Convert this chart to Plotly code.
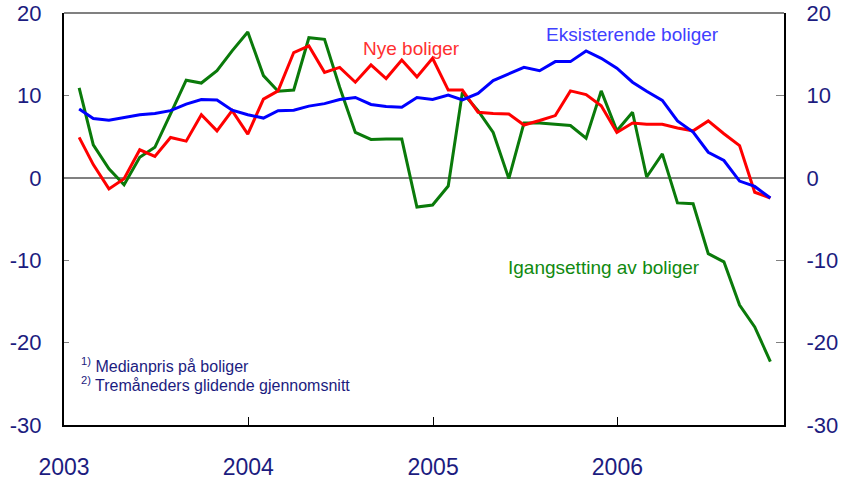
import pandas as pd
import plotly.graph_objects as go

# Monthly observations, Jan 2003 - Oct 2006 (plotted at month end)
months = pd.date_range("2003-01-31", periods=46, freq="ME")

# Tolvmånedersvekst i prosent
eksisterende = [8.35, 7.2, 7.0, 7.35, 7.65, 7.8, 8.15, 8.95, 9.5, 9.45, 8.2, 7.65,
                7.25, 8.15, 8.2, 8.7, 9.0, 9.5, 9.75, 8.9, 8.65, 8.55, 9.75, 9.5,
                10.05, 9.45, 10.25, 11.8, 12.6, 13.4, 13.0, 14.1, 14.1, 15.4, 14.5, 13.3,
                11.6, 10.5, 9.4, 6.9, 5.55, 3.1, 2.1, -0.4, -1.05, -2.45]
nye = [4.9, 1.6, -1.35, -0.1, 3.4, 2.6, 4.9, 4.45, 7.65, 5.7, 8.15, 5.3,
       9.55, 10.55, 15.2, 16.0, 12.8, 13.4, 11.6, 13.7, 12.05, 14.3, 12.25, 14.5,
       10.65, 10.65, 7.95, 7.8, 7.75, 6.4, 6.95, 7.55, 10.55, 10.1, 8.75, 5.5,
       6.65, 6.5, 6.5, 6.05, 5.7, 6.9, 5.35, 3.9, -1.75, -2.45]
igangsetting = [10.9, 4.0, 1.1, -0.85, 2.5, 3.7, 7.75, 11.85, 11.5, 13.0, 15.4, 17.7,
                12.4, 10.5, 10.65, 17.0, 16.8, 11.0, 5.5, 4.65, 4.7, 4.7, -3.55, -3.3,
                -1.0, 10.35, 8.15, 5.5, -0.1, 6.65, 6.65, 6.5, 6.35, 4.8, 10.55, 5.7,
                7.95, 0.1, 2.9, -3.05, -3.15, -9.2, -10.2, -15.45, -18.1, -22.3]

year_ticks = ["2003-01-01", "2004-01-01", "2005-01-01", "2006-01-01"]
year_labels = ["2003", "2004", "2005", "2006"]
y_ticks = [-30, -20, -10, 0, 10, 20]
y_labels = ["-30", "-20", "-10", "0", "10", "20"]

navy = "#1c1c80"
font = "Liberation Sans, Arial, sans-serif"

fig = go.Figure()
fig.add_trace(go.Scatter(x=months, y=igangsetting, mode="lines",
                         line=dict(color="#0a7a0a", width=3), showlegend=False))
fig.add_trace(go.Scatter(x=months, y=nye, mode="lines",
                         line=dict(color="#ff0000", width=3), showlegend=False))
fig.add_trace(go.Scatter(x=months, y=eksisterende, mode="lines",
                         line=dict(color="#0000ff", width=3), showlegend=False))
# invisible trace so the right-hand axis is drawn
fig.add_trace(go.Scatter(x=months[:1], y=[0], yaxis="y2", mode="lines",
                         line=dict(width=0), hoverinfo="skip", showlegend=False))

fig.update_layout(
    width=843, height=479,
    margin=dict(l=64, r=59, t=13, b=54),
    paper_bgcolor="white", plot_bgcolor="white",
    font=dict(family=font, color=navy),
    xaxis=dict(
        range=["2003-01-01", "2006-11-27"],
        tickvals=year_ticks, ticktext=year_labels,
        ticks="inside", ticklen=8, tickcolor="black", tickwidth=1,
        showline=True, linecolor="black", linewidth=2,
        showgrid=False, zeroline=False, automargin=False,
        tickfont=dict(size=23, color=navy),
        ticklabelstandoff=20,
    ),
    yaxis=dict(
        range=[-30, 20], tickvals=y_ticks, ticktext=y_labels,
        ticks="inside", ticklen=5, tickcolor="#808080",
        showline=True, linecolor="black", linewidth=2,
        showgrid=False, zeroline=True, zerolinecolor="#808080", zerolinewidth=2,
        automargin=False,
        tickfont=dict(size=22, color=navy),
        ticklabelstandoff=16,
    ),
    yaxis2=dict(
        range=[-30, 20], tickvals=y_ticks, ticktext=y_labels,
        overlaying="y", side="right",
        ticks="inside", ticklen=8, tickcolor="#808080",
        showline=True, linecolor="black", linewidth=2,
        showgrid=False, zeroline=False, automargin=False,
        tickfont=dict(size=22, color=navy),
        ticklabelstandoff=16,
    ),
    shapes=[dict(type="line", xref="paper", yref="paper", x0=0, x1=1, y0=1, y1=1,
                 line=dict(color="#808080", width=2))],
)

# series labels
fig.add_annotation(x="2004-11-20", y=15.65, text="Nye boliger", showarrow=False,
                   font=dict(size=19, color="#ff3030"))
fig.add_annotation(x="2006-01-30", y=17.35, text="Eksisterende boliger", showarrow=False,
                   font=dict(size=19, color="#4040ff"))
fig.add_annotation(x="2005-12-05", y=-10.85, text="Igangsetting av boliger", showarrow=False,
                   font=dict(size=19, color="#108a10"))

# footnotes
fig.add_annotation(x="2003-01-30", y=-22.7, xanchor="left",
                   text="<sup>1)</sup> Medianpris på boliger", showarrow=False,
                   font=dict(size=16, color=navy))
fig.add_annotation(x="2003-01-30", y=-25.0, xanchor="left",
                   text="<sup>2)</sup> Tremåneders glidende gjennomsnitt", showarrow=False,
                   font=dict(size=16, color=navy))

# drop the default 8px page margin so the figure fills the window exactly
fig.write_html("out.html", config={"displayModeBar": False},
               post_script="document.body.style.margin='0';")
